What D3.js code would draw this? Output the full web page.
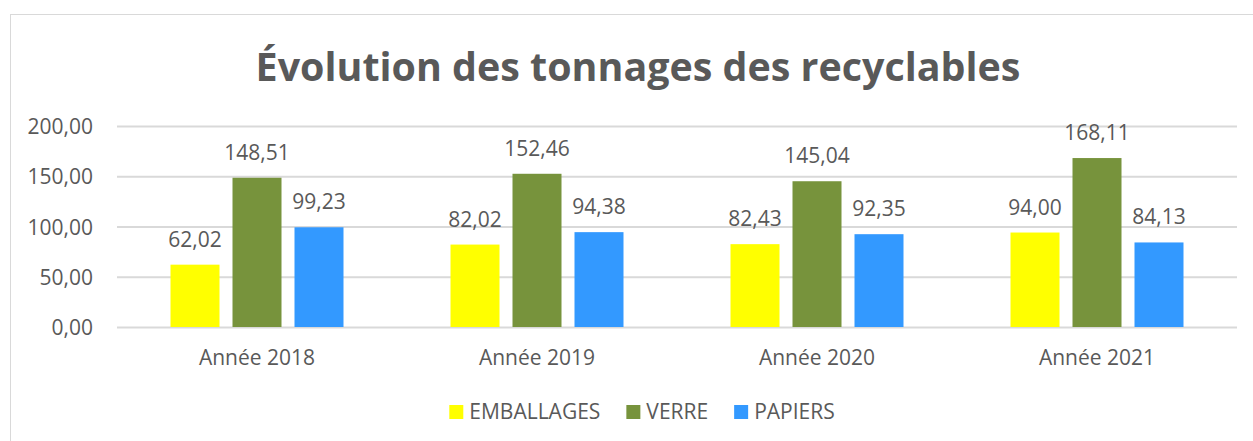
<!DOCTYPE html>
<html>
<head>
<meta charset="utf-8">
<script src="https://cdn.jsdelivr.net/npm/d3@7"></script>
<style>
  body { margin: 0; background: #fff; }
  svg text { font-family: "Open Sans", sans-serif; fill: #595959; }
</style>
</head>
<body>
<svg id="chart" width="1253" height="441"></svg>
<script>
// data
var years = ["Année 2018", "Année 2019", "Année 2020", "Année 2021"];
var series = ["EMBALLAGES", "VERRE", "PAPIERS"];
var emballages = [62.02, 82.02, 82.43, 94.00];
var verre = [148.51, 152.46, 145.04, 168.11];
var papiers = [99.23, 94.38, 92.35, 84.13];
var yTicks = [0, 50, 100, 150, 200];
var colors = ["#FFFF00", "#77933C", "#3399FF"];
var titleText = "Évolution des tonnages des recyclables";

var values = [emballages, verre, papiers];

var svg = d3.select("#chart");
var plot = { left: 117, right: 1237, top: 126, bottom: 327 };
var centerX = 638;

// chart frame
svg.append("rect")
    .attr("x", 10.5).attr("y", 14.5)
    .attr("width", 1300).attr("height", 500)
    .attr("fill", "none").attr("stroke", "#d9d9d9").attr("stroke-width", 1);

// title - size it to the width it has in the picture
var title = svg.append("text")
    .attr("x", centerX).attr("y", 81)
    .attr("text-anchor", "middle")
    .style("font-weight", "bold")
    .style("font-size", "40px")
    .text(titleText);
var tw = title.node().getComputedTextLength();
title.style("font-size", (40 * 765 / tw) + "px");

var x0 = d3.scaleBand().domain(years).range([plot.left, plot.right]).padding(0);
var x1 = d3.scaleBand().domain(series).range([0, x0.bandwidth()])
    .paddingInner(13 / 62).paddingOuter(0.863);
var y = d3.scaleLinear().domain([0, 200]).range([plot.bottom, plot.top]);

// grid
var yAxis = d3.axisLeft(y).tickValues(yTicks)
    .tickSize(-(plot.right - plot.left))
    .tickPadding(24)
    .tickFormat(function (d) { return d.toFixed(2).replace(".", ","); });
var gy = svg.append("g").attr("transform", "translate(" + plot.left + ",0)").call(yAxis);
gy.select(".domain").remove();
gy.selectAll(".tick line").attr("stroke", "#d9d9d9").attr("stroke-width", 2);
gy.selectAll(".tick text")
    .attr("dy", "0.36em")
    .style("font-size", "21px")
    .style("font-family", "'Open Sans', sans-serif")
    .attr("fill", "#595959");

// bars
var groups = svg.selectAll("g.year")
    .data(years)
    .enter().append("g")
    .attr("class", "year")
    .attr("transform", function (d) { return "translate(" + x0(d) + ",0)"; });

groups.selectAll("rect")
    .data(function (d, i) { return series.map(function (s, j) { return { s: s, j: j, v: values[j][i] }; }); })
    .enter().append("rect")
    .attr("x", function (d) { return x1(d.s); })
    .attr("y", function (d) { return y(d.v); })
    .attr("width", x1.bandwidth())
    .attr("height", function (d) { return y(0) - y(d.v); })
    .attr("fill", function (d) { return colors[d.j]; });

groups.selectAll("text.val")
    .data(function (d, i) { return series.map(function (s, j) { return { s: s, j: j, v: values[j][i] }; }); })
    .enter().append("text")
    .attr("class", "val")
    .attr("x", function (d) { return x1(d.s) + x1.bandwidth() / 2; })
    .attr("y", function (d) { return y(d.v) - 18; })
    .attr("text-anchor", "middle")
    .style("font-size", "21px")
    .text(function (d) { return d.v.toFixed(2).replace(".", ","); });

// x axis labels
var xAxis = d3.axisBottom(x0).tickSize(0).tickPadding(0);
var gx = svg.append("g").attr("transform", "translate(0," + plot.bottom + ")").call(xAxis);
gx.select(".domain").remove();
gx.selectAll(".tick text")
    .attr("y", 38).attr("dy", 0)
    .style("font-size", "21px")
    .style("font-family", "'Open Sans', sans-serif")
    .attr("fill", "#595959");

// legend
var legend = svg.append("g");
var items = legend.selectAll("g").data(series).enter().append("g");
items.append("rect")
    .attr("width", 14).attr("height", 14)
    .attr("y", 405)
    .attr("fill", function (d, i) { return colors[i]; });
items.append("text")
    .attr("x", 20).attr("y", 418.5)
    .style("font-size", "21px")
    .text(function (d) { return d; });
var pos = 0;
items.each(function () {
    var g = d3.select(this);
    var w = 20 + g.select("text").node().getComputedTextLength();
    g.attr("transform", "translate(" + pos + ",0)");
    pos += w + 26;
});
pos -= 26;
legend.attr("transform", "translate(" + (centerX + 4 - pos / 2) + ",0)");
</script>
</body>
</html>
